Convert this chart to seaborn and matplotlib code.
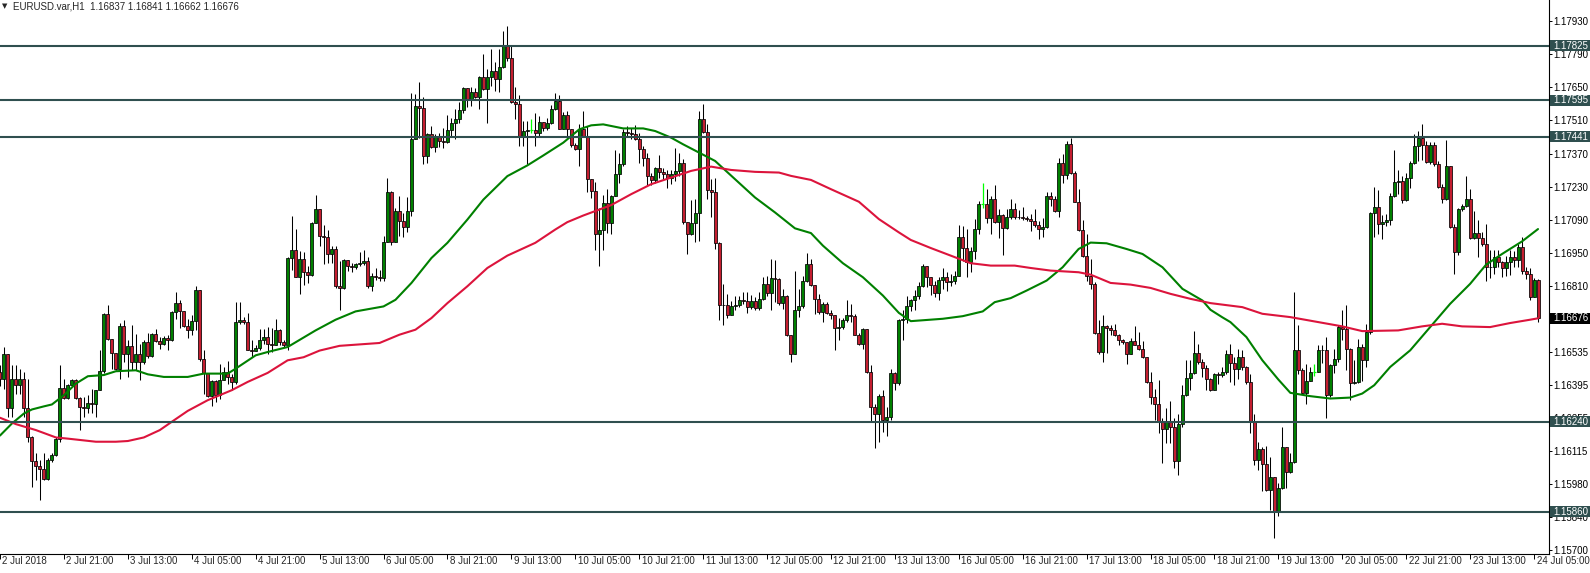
import numpy as np
import matplotlib
matplotlib.use("Agg")
import matplotlib.pyplot as plt
import matplotlib.transforms as mtrans
from matplotlib.patches import Rectangle
import seaborn as sns

sns.set_theme(style="white")
plt.rcParams['font.family'] = ['Liberation Sans', 'DejaVu Sans']

# EURUSD H1, prices in points (1e-5). open of each bar = close of the bar before
first_open = 116450
close_pts = [
    116422, 116524, 116300, 116422, 116397, 116419, 116296, 116174, 116076, 116054,
    116040, 115998, 116079, 116100, 116166, 116384, 116342, 116394, 116415, 116342,
    116303, 116300, 116321, 116317, 116376, 116453, 116695, 116590, 116531, 116464,
    116642, 116524, 116558, 116492, 116524, 116492, 116576, 116516, 116611, 116580,
    116566, 116594, 116586, 116702, 116741, 116706, 116643, 116625, 116664, 116796,
    116506, 116446, 116349, 116411, 116352, 116418, 116450, 116429, 116408, 116660,
    116667, 116660, 116544, 116540, 116552, 116586, 116597, 116566, 116562, 116628,
    116576, 116565, 116930, 116964, 116852, 116926, 116870, 116859, 117078, 117138,
    117022, 117019, 116949, 116970, 116813, 116804, 116923, 116895, 116892, 116906,
    116909, 116919, 116811, 116853, 116850, 116846, 116999, 117207, 116999, 117126,
    117088, 117061, 117130, 117430, 117570, 117563, 117359, 117453, 117399, 117444,
    117423, 117418, 117469, 117497, 117514, 117552, 117646, 117598, 117629, 117610,
    117693, 117641, 117693, 117718, 117686, 117735, 117823, 117771, 117587, 117577,
    117446, 117465, 117469, 117469, 117458, 117503, 117477, 117497, 117556, 117591,
    117475, 117534, 117472, 117408, 117390, 117475, 117446, 117261, 117212, 117033,
    117047, 117160, 117078, 117193, 117286, 117324, 117461, 117458, 117454, 117430,
    117388, 117353, 117276, 117259, 117310, 117294, 117284, 117269, 117283, 117297,
    117329, 117080, 117031, 117077, 117119, 117514, 117461, 117216, 117210, 116992,
    116733, 116730, 116688, 116727, 116733, 116755, 116750, 116722, 116747, 116719,
    116758, 116821, 116783, 116845, 116842, 116741, 116772, 116607, 116527, 116712,
    116727, 116835, 116905, 116817, 116758, 116702, 116737, 116699, 116688, 116636,
    116640, 116667, 116688, 116684, 116607, 116566, 116632, 116450, 116303, 116271,
    116348, 116247, 116261, 116446, 116405, 116667, 116671, 116727, 116755, 116768,
    116810, 116898, 116849, 116818, 116782, 116838, 116849, 116828, 116835, 116853,
    117017, 116972, 116912, 116961, 117051, 117157, 117157, 117098, 117177, 117080,
    117112, 117056, 117101, 117135, 117101, 117104, 117098, 117095, 117084, 117069,
    117051, 117062, 117191, 117177, 117126, 117332, 117279, 117409, 117290, 117168,
    117048, 116940, 116856, 116821, 116615, 116534, 116642, 116636, 116625, 116604,
    116586, 116576, 116524, 116579, 116565, 116547, 116513, 116408, 116345, 116314,
    116240, 116208, 116245, 116219, 116076, 116230, 116352, 116426, 116446, 116530,
    116492, 116468, 116422, 116376, 116440, 116436, 116450, 116527, 116489, 116464,
    116513, 116471, 116408, 116240, 116079, 116124, 116062, 115953, 116006, 115862,
    115960, 116135, 116030, 116072, 116541, 116457, 116362, 116412, 116450, 116450,
    116541, 116544, 116352, 116478, 116506, 116639, 116632, 116548, 116404, 116408,
    116555, 116502, 116618, 117118, 117147, 117073, 117080, 117090, 117192, 117251,
    117255, 117174, 117269, 117332, 117402, 117437, 117406, 117336, 117406, 117328,
    117230, 117178, 117318, 117059, 116954, 117136, 117150, 117178, 117014, 117034,
    117014, 116989, 116891, 116894, 116933, 116912, 116888, 116912, 116933, 116922,
    116975, 116874, 116863, 116767, 116837, 116676,
]
high_pts = [
    116480, 116555, 116524, 116478, 116478, 116464, 116450, 116422, 116180, 116107,
    116079, 116107, 116086, 116107, 116177, 116478, 116422, 116401, 116422, 116422,
    116345, 116345, 116352, 116380, 116376, 116541, 116699, 116730, 116590, 116531,
    116656, 116667, 116583, 116646, 116611, 116569, 116583, 116614, 116614, 116632,
    116597, 116600, 116604, 116705, 116786, 116754, 116706, 116674, 116688, 116814,
    116793, 116541, 116446, 116415, 116415, 116485, 116471, 116496, 116443, 116744,
    116744, 116681, 116698, 116583, 116562, 116629, 116632, 116639, 116636, 116673,
    116632, 116586, 116933, 117108, 117052, 116961, 116954, 116898, 117082, 117197,
    117138, 117071, 117050, 116979, 116982, 116916, 116926, 116916, 116909, 116909,
    116957, 116965, 116933, 116867, 116888, 116881, 117024, 117265, 117214, 117140,
    117190, 117120, 117186, 117626, 117619, 117671, 117610, 117458, 117486, 117451,
    117458, 117479, 117534, 117521, 117556, 117587, 117650, 117648, 117650, 117648,
    117697, 117791, 117725, 117812, 117757, 117809, 117887, 117908, 117826, 117650,
    117617, 117506, 117506, 117514, 117539, 117528, 117500, 117521, 117573, 117624,
    117615, 117545, 117548, 117472, 117416, 117493, 117549, 117486, 117261, 117250,
    117141, 117197, 117219, 117197, 117387, 117373, 117472, 117486, 117479, 117489,
    117458, 117402, 117371, 117290, 117315, 117363, 117311, 117301, 117301, 117395,
    117374, 117346, 117083, 117175, 117178, 117549, 117577, 117496, 117262, 117265,
    116996, 116821, 116779, 116747, 116772, 116772, 116786, 116786, 116775, 116765,
    116786, 116849, 116856, 116926, 116923, 116845, 116800, 116776, 116607, 116877,
    116800, 116856, 116951, 116926, 116817, 116779, 116744, 116744, 116709, 116691,
    116677, 116677, 116751, 116737, 116695, 116615, 116636, 116632, 116479, 116313,
    116359, 116373, 116303, 116464, 116450, 116671, 116713, 116772, 116758, 116796,
    116828, 116905, 116898, 116852, 116835, 116849, 116888, 116870, 116863, 116874,
    117070, 117066, 117051, 116975, 117094, 117171, 117248, 117220, 117192, 117238,
    117136, 117115, 117136, 117178, 117160, 117132, 117146, 117108, 117115, 117136,
    117087, 117098, 117206, 117206, 117192, 117353, 117367, 117423, 117437, 117297,
    117220, 117090, 117031, 116926, 116828, 116670, 116688, 116646, 116646, 116653,
    116611, 116590, 116576, 116594, 116642, 116620, 116580, 116513, 116450, 116380,
    116418, 116254, 116296, 116328, 116258, 116272, 116394, 116499, 116502, 116622,
    116569, 116506, 116478, 116426, 116444, 116450, 116471, 116544, 116566, 116513,
    116548, 116541, 116474, 116440, 116272, 116156, 116135, 116138, 116093, 116009,
    115981, 116219, 116135, 116107, 116786, 116646, 116468, 116482, 116471, 116482,
    116562, 116563, 116597, 116485, 116548, 116646, 116709, 116733, 116552, 116499,
    116590, 116569, 116653, 117122, 117230, 117217, 117112, 117115, 117202, 117384,
    117300, 117276, 117290, 117339, 117451, 117465, 117496, 117423, 117417, 117417,
    117339, 117241, 117426, 117318, 117073, 117140, 117157, 117276, 117220, 117129,
    117090, 117038, 117073, 116964, 116964, 116964, 116919, 116940, 116964, 116961,
    116989, 117017, 116891, 116888, 116846, 116841,
]
low_pts = [
    116390, 116380, 116261, 116261, 116359, 116359, 116261, 116156, 115967, 115995,
    115911, 115995, 115995, 116072, 116096, 116156, 116334, 116338, 116387, 116338,
    116205, 116261, 116275, 116275, 116261, 116373, 116446, 116583, 116464, 116457,
    116422, 116492, 116429, 116457, 116457, 116418, 116485, 116510, 116513, 116576,
    116545, 116562, 116541, 116580, 116674, 116636, 116639, 116594, 116604, 116625,
    116496, 116359, 116345, 116306, 116324, 116338, 116415, 116401, 116373, 116401,
    116653, 116653, 116541, 116513, 116541, 116541, 116566, 116527, 116534, 116562,
    116562, 116555, 116541, 116880, 116849, 116779, 116817, 116824, 116853, 117078,
    116979, 116906, 116909, 116909, 116804, 116712, 116799, 116874, 116871, 116885,
    116895, 116902, 116804, 116792, 116839, 116832, 116832, 116996, 116986, 117010,
    117022, 117019, 117039, 117106, 117430, 117437, 117328, 117331, 117394, 117376,
    117397, 117394, 117413, 117446, 117430, 117500, 117542, 117567, 117570, 117605,
    117559, 117638, 117497, 117655, 117632, 117629, 117732, 117760, 117584, 117514,
    117401, 117401, 117324, 117455, 117404, 117444, 117465, 117469, 117493, 117552,
    117472, 117472, 117444, 117399, 117387, 117317, 117441, 117207, 117183, 116965,
    116898, 116965, 117036, 117033, 117212, 117247, 117318, 117444, 117430, 117426,
    117332, 117318, 117234, 117237, 117245, 117266, 117262, 117227, 117241, 117255,
    117276, 117073, 116947, 117027, 116996, 117000, 117458, 117178, 117101, 116968,
    116667, 116649, 116677, 116691, 116709, 116723, 116737, 116698, 116716, 116713,
    116709, 116755, 116772, 116709, 116744, 116730, 116716, 116601, 116492, 116524,
    116681, 116720, 116828, 116814, 116695, 116695, 116660, 116695, 116674, 116541,
    116583, 116632, 116660, 116660, 116604, 116562, 116548, 116447, 116240, 116128,
    116156, 116198, 116181, 116247, 116373, 116394, 116583, 116657, 116705, 116709,
    116758, 116807, 116807, 116776, 116765, 116751, 116800, 116793, 116814, 116821,
    116853, 116919, 116849, 116870, 116926, 117031, 117140, 117076, 117031, 117076,
    117014, 116944, 117052, 117094, 117094, 117094, 117090, 117087, 117045, 117059,
    117010, 117020, 117056, 117150, 117122, 117101, 117248, 117262, 117283, 117164,
    117045, 116933, 116835, 116800, 116611, 116524, 116492, 116530, 116604, 116600,
    116562, 116569, 116485, 116524, 116562, 116541, 116509, 116404, 116317, 116247,
    116191, 116065, 116149, 116149, 116044, 116016, 116216, 116348, 116373, 116443,
    116485, 116429, 116373, 116370, 116373, 116401, 116429, 116443, 116408, 116397,
    116422, 116457, 116398, 116194, 116058, 116037, 115949, 115950, 115869, 115750,
    115844, 115957, 115960, 116023, 116068, 116443, 116359, 116317, 116412, 116432,
    116450, 116489, 116258, 116345, 116447, 116492, 116583, 116457, 116331, 116401,
    116404, 116412, 116471, 116608, 117020, 117031, 117010, 117066, 117069, 117188,
    117199, 117160, 117171, 117224, 117328, 117339, 117342, 117332, 117325, 117318,
    117224, 117160, 117174, 117056, 116863, 116944, 117129, 117143, 117010, 117010,
    116933, 116982, 116832, 116846, 116863, 116891, 116849, 116856, 116860, 116891,
    116891, 116863, 116842, 116753, 116766, 116662,
]

# moving averages (bar index -> points)
green_idx = [0, 3, 6, 8, 11, 13, 16, 19, 22, 26, 29, 34, 37, 41, 47, 51, 57, 59, 64, 67,
             72, 76, 79, 84, 89, 96, 99, 103, 108, 112, 117, 121, 127, 132, 136, 141, 145, 148, 151, 156,
             161, 164, 168, 171, 175, 179, 184, 189, 194, 199, 203, 206, 211, 216, 221, 225, 228, 236, 241, 246,
             249, 253, 257, 262, 266, 270, 273, 277, 282, 286, 291, 296, 301, 303, 306, 308, 312, 316, 320, 323,
             328, 333, 338, 341, 344, 348, 353, 358, 363, 368, 372, 376, 381, 385]
green_pts = [116182, 116233, 116275, 116292, 116305, 116313, 116352, 116401, 116432, 116437,
             116453, 116457, 116440, 116429, 116429, 116443, 116443, 116464, 116520, 116534,
             116555, 116595, 116625, 116670, 116705, 116726, 116754, 116825, 116930, 116994,
             117092, 117176, 117275, 117320, 117362, 117416, 117472, 117489, 117493, 117476,
             117476, 117465, 117437, 117409, 117374, 117339, 117262, 117185, 117122, 117055,
             117035, 116982, 116908, 116849, 116772, 116699, 116664, 116674, 116685, 116705,
             116744, 116761, 116793, 116835, 116891, 116968, 116995, 116992, 116968, 116947,
             116891, 116800, 116751, 116712, 116680, 116660, 116597, 116499, 116418, 116362,
             116348, 116338, 116342, 116359, 116394, 116471, 116541, 116639, 116737, 116821,
             116902, 116947, 117000, 117052]
red_idx = [0, 4, 9, 14, 17, 24, 29, 32, 36, 40, 43, 47, 52, 58, 62, 67, 72, 76, 80, 85,
           95, 100, 104, 108, 112, 117, 122, 127, 134, 139, 142, 146, 150, 153, 158, 163, 168, 173, 178, 183,
           189, 195, 198, 203, 208, 215, 220, 225, 228, 233, 238, 243, 248, 254, 258, 263, 270, 273, 278, 283,
           288, 293, 298, 303, 311, 316, 323, 330, 336, 341, 350, 356, 361, 366, 373, 378, 383, 385]
red_pts = [116257, 116230, 116205, 116174, 116169, 116156, 116156, 116159, 116174, 116205,
           116240, 116286, 116331, 116373, 116408, 116446, 116499, 116512, 116540, 116560,
           116572, 116607, 116628, 116677, 116740, 116811, 116888, 116940, 116994, 117050,
           117081, 117109, 117134, 117153, 117199, 117241, 117269, 117297, 117315, 117301,
           117293, 117290, 117276, 117259, 117220, 117167, 117094, 117038, 117006, 116972,
           116940, 116908, 116898, 116898, 116888, 116877, 116870, 116860, 116825, 116818,
           116804, 116779, 116758, 116740, 116723, 116695, 116681, 116660, 116642, 116622,
           116625, 116642, 116653, 116642, 116639, 116656, 116670, 116676]

levels = [1.17825, 1.17595, 1.17441, 1.16240, 1.15860]
last_price = 1.16676
price_ticks = [1.17930, 1.17790, 1.17650, 1.17510, 1.17370, 1.17230, 1.17090, 1.16950,
               1.16810, 1.16670, 1.16535, 1.16395, 1.16255, 1.16115, 1.15980, 1.15840, 1.15700]
date_idx = list(range(0, 385, 16))
date_labels = ["2 Jul 2018", "2 Jul 21:00", "3 Jul 13:00", "4 Jul 05:00", "4 Jul 21:00",
               "5 Jul 13:00", "6 Jul 05:00", "8 Jul 21:00", "9 Jul 13:00", "10 Jul 05:00",
               "10 Jul 21:00", "11 Jul 13:00", "12 Jul 05:00", "12 Jul 21:00", "13 Jul 13:00",
               "16 Jul 05:00", "16 Jul 21:00", "17 Jul 13:00", "18 Jul 05:00", "18 Jul 21:00",
               "19 Jul 13:00", "20 Jul 05:00", "22 Jul 21:00", "23 Jul 13:00", "24 Jul 05:00"]
title = "EURUSD.var,H1  1.16837 1.16841 1.16662 1.16676"

BULL = '#008000'
BEAR = '#c41e30'
DOJI = '#00ff00'
LEVEL = '#2f4f4f'

close = np.array(close_pts) / 1e5
high = np.array(high_pts) / 1e5
low = np.array(low_pts) / 1e5
opn = np.r_[first_open / 1e5, close[:-1]]
idx = np.arange(len(close))
up = close > opn
down = close < opn
flat = close == opn

W, H = 1590, 573
fig = plt.figure(figsize=(W / 100, H / 100), dpi=100)
ax_w, ax_h = 1549, 554
ax = fig.add_axes([0, 1 - ax_h / H, ax_w / W, ax_h / H])
ylim = (1.15683, 1.18017)

# candles
top = np.maximum(high, np.maximum(opn, close))
bot = np.minimum(low, np.minimum(opn, close))
ax.vlines(idx[~flat], bot[~flat], top[~flat], color='black', lw=0.75, zorder=2)
ax.bar(idx[up], (close - opn)[up], bottom=opn[up], width=0.75, color=BULL,
       edgecolor='black', linewidth=0.55, zorder=3)
ax.bar(idx[down], (close - opn)[down], bottom=opn[down], width=0.75, color=BEAR,
       edgecolor='black', linewidth=0.55, zorder=3)
ax.vlines(idx[flat], low[flat], high[flat], color=DOJI, lw=0.9, zorder=3)
ax.hlines(close[flat], idx[flat] - 0.4, idx[flat] + 0.4, color=DOJI, lw=0.9, zorder=3)

# moving averages
sns.lineplot(x=green_idx, y=np.array(green_pts) / 1e5, color='#008000', lw=1.5, ax=ax, zorder=4)
sns.lineplot(x=red_idx, y=np.array(red_pts) / 1e5, color='#dc143c', lw=1.5, ax=ax, zorder=4)

for lv in levels:
    ax.axhline(lv, color=LEVEL, lw=1.5, zorder=5)

ax.set_xlim(0.5, 387.75)
ax.set_ylim(*ylim)
for s in ['top', 'left']:
    ax.spines[s].set_visible(False)
for s in ['right', 'bottom']:
    ax.spines[s].set_color('black')
    ax.spines[s].set_linewidth(0.8)

# price axis on the right
ax.yaxis.tick_right()
ax.set_yticks(price_ticks)
ax.set_yticklabels([f"{t:.5f}" for t in price_ticks])
ax.tick_params(axis='y', direction='out', length=2.2, width=0.7, pad=1.2,
               labelsize=7, colors='black', right=True, left=False)

# date axis
ax.set_xticks(date_idx)
ax.set_xticklabels([])
ax.tick_params(axis='x', direction='out', length=3.5, width=0.7, colors='black', bottom=True)
xform = mtrans.blended_transform_factory(ax.transData, ax.transAxes) + \
    mtrans.ScaledTranslation(2.5 / 100, -2.5 / 100, fig.dpi_scale_trans)
for i, lab in zip(date_idx, date_labels):
    ax.text(i, 0, lab, transform=xform, ha='left', va='top', fontsize=7, clip_on=False)

# price boxes for levels and last price
ppx = (ylim[1] - ylim[0]) / ax_h
btrans = mtrans.blended_transform_factory(ax.transAxes, ax.transData)
for lv, fc in [(l, LEVEL) for l in levels] + [(last_price, 'black')]:
    ax.add_patch(Rectangle((1.0 + 1 / ax_w, lv - 5.5 * ppx), 41 / ax_w, 11 * ppx, transform=btrans,
                           facecolor=fc, edgecolor='none', clip_on=False, zorder=10))
    ax.text(1.0 + 4 / ax_w, lv, f"{lv:.5f}", transform=btrans, ha='left', va='center',
            color='white', fontsize=7, clip_on=False, zorder=11)

fig.text(2 / W, 1 - 6.5 / H, "\u25bc", fontsize=5, family='DejaVu Sans', ha='left', va='center')
fig.text(13 / W, 1 - 6.5 / H, title, fontsize=7, ha='left', va='center')

fig.savefig("out.png", dpi=100, facecolor='white')
